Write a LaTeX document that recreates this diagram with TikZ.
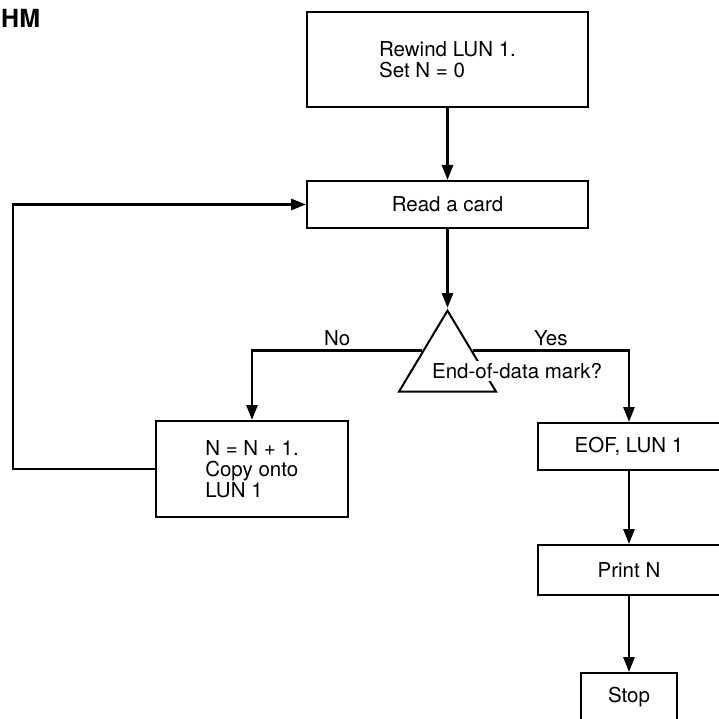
\documentclass[tikz,border=0pt]{standalone}
\usepackage{fontspec}
\setmainfont{TeX Gyre Heros}
\usetikzlibrary{shapes.geometric, arrows.meta, positioning}
\tikzstyle{block} = [rectangle, draw, line width=2pt, fill=white,
                 align=left, inner sep=0pt]
\tikzstyle{branch} = [line width=2.8pt, draw, -{Triangle[length=15pt,width=11pt]}]
\tikzset{
	decision/.style={isosceles triangle, draw, line width=2pt,
		shape border rotate=90, isosceles triangle stretches,
		minimum width=97pt, minimum height=81pt, inner sep=0pt},
	answer/.style={above, inner sep=3pt},
}

\begin{document}
\begin{tikzpicture}[x=1pt, y=-1pt, font=\fontsize{20.5}{21}\selectfont]
\useasboundingbox (0,0) rectangle (719,719);

\node [anchor=base west, inner sep=1pt, font=\fontsize{25}{28}\selectfont\bfseries] at (0,28) (title) {HM};

\node [block, minimum width=281pt, minimum height=95pt] at (447.5,59.5) (rewind) {Rewind LUN 1.\\Set N = 0};
\node [block, minimum width=281pt, minimum height=47pt] at (447.5,204.5) (read) {Read a card};

	%test
\node [decision, anchor=apex] at (447.5,308) (test) {};
\node [fill=white, inner sep=2pt] at (517,371) (question) {End-of-data mark?};

\node [block, minimum width=192pt, minimum height=96pt] at (252,469) (copy) {N = N + 1.\\Copy onto\\LUN 1};
\node [block, minimum width=182pt, minimum height=47pt] at (629,446.5) (eof) {EOF, LUN 1};
\node [block, minimum width=182pt, minimum height=50pt] at (629,570) (print) {Print N};
\node [block, minimum width=96pt, minimum height=48pt] at (629,697) (stop) {Stop};

\coordinate (back) at (13,0);

\path[branch] (rewind.south) -- (read.north);
\path[branch] (read.south) -- (test.apex);
\path[branch] (test.left side) -| node[answer, pos=0.25] {No} (copy.north);
\path[branch] (test.right side) -| node[answer, pos=0.25] {Yes} (eof.north);
\path[branch] (copy.west) -- (copy.west -| back) |- (read.west);
\foreach \a/\b in {eof/print, print/stop}
	\path[branch] (\a.south) -- (\b.north);

\end{tikzpicture}
\end{document}
